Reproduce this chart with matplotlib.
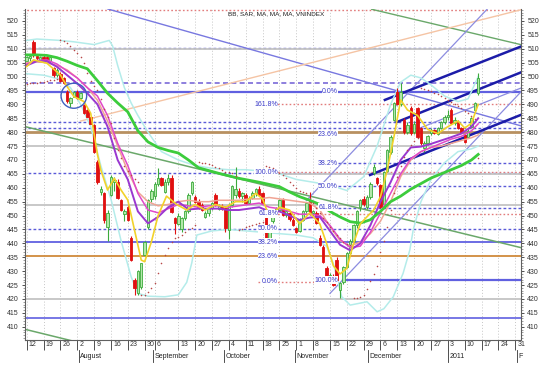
import matplotlib
matplotlib.use('Agg')
import matplotlib.pyplot as plt
from matplotlib.patches import Ellipse
from matplotlib.ticker import MultipleLocator
import matplotlib.transforms as mtransforms

# ---------------- data (trading-day index, VNINDEX points) ----------------
opens = [505.5, 506.5, 512.3, 507.5, 506.0, 507.0, 507.0, 505.5, 503.0, 500.5,
         501.0, 499.5, 494.6, 490.5, 492.8, 494.6, 492.2, 489.8, 488.0, 485.4,
         482.6, 469.4, 458.5, 458.0, 446.0, 457.4, 462.0, 462.2, 455.6, 450.5,
         453.2, 441.8, 426.8, 422.0, 424.4, 436.0, 446.0, 456.0, 457.0, 461.5,
         463.4, 458.6, 462.0, 463.4, 449.0, 447.0, 445.0, 449.0, 451.5, 458.0,
         456.8, 455.0, 453.8, 449.5, 450.8, 452.6, 457.4, 452.5, 453.5, 452.6,
         444.8, 453.8, 457.5, 459.0, 457.0, 457.4, 454.5, 456.5, 458.0, 459.5,
         458.0, 450.8, 441.5, 448.0, 450.0, 452.0, 455.6, 450.2, 451.0, 448.4,
         445.4, 444.5, 448.5, 451.5, 455.6, 450.8, 450.8, 441.8, 438.8, 431.2,
         427.0, 428.0, 434.0, 423.2, 426.0, 431.5, 436.5, 441.0, 446.5, 453.0,
         456.0, 453.0, 456.8, 465.2, 463.5, 461.0, 454.0, 466.0, 473.0, 484.4,
         494.6, 490.2, 484.4, 480.2, 488.6, 480.0, 488.6, 481.4, 474.2, 476.0,
         479.6, 480.8, 479.5, 481.5, 483.5, 485.5, 488.0, 483.2, 483.8, 481.4,
         479.0, 478.4, 482.0, 488.0, 494.0]
highs = [507.5, 508.0, 513.2, 508.0, 507.5, 507.8, 507.5, 507.5, 503.5, 503.0,
         501.5, 500.0, 495.0, 492.5, 494.8, 495.0, 494.5, 490.0, 488.5, 485.8,
         483.0, 470.0, 460.5, 458.5, 452.0, 464.5, 463.8, 463.0, 456.0, 452.5,
         453.8, 442.5, 427.5, 430.5, 433.0, 441.0, 456.0, 459.5, 462.0, 467.2,
         464.0, 463.0, 465.0, 464.5, 449.5, 451.0, 449.5, 452.0, 458.0, 462.5,
         457.5, 456.0, 454.5, 451.5, 453.0, 455.0, 458.0, 454.0, 454.0, 453.0,
         454.5, 461.0, 467.6, 460.0, 458.5, 458.0, 457.0, 459.0, 460.0, 460.5,
         458.5, 451.5, 447.0, 450.8, 453.0, 456.0, 456.2, 452.0, 451.5, 449.0,
         446.0, 449.0, 452.0, 455.0, 458.6, 452.0, 451.5, 443.0, 439.5, 432.0,
         429.5, 429.0, 435.0, 426.0, 432.0, 437.0, 441.5, 447.0, 452.0, 456.0,
         457.0, 457.5, 462.0, 468.5, 464.0, 461.5, 466.0, 474.0, 479.0, 491.0,
         495.8, 497.6, 485.0, 483.5, 489.5, 484.0, 489.0, 482.0, 477.0, 479.0,
         481.5, 481.2, 482.0, 484.0, 486.0, 488.0, 488.8, 485.5, 484.5, 482.0,
         479.5, 481.0, 485.5, 490.8, 501.2]
lows = [504.5, 505.5, 507.2, 505.5, 505.5, 505.5, 505.0, 505.0, 500.0, 500.0,
        498.0, 497.5, 490.5, 489.0, 492.5, 492.0, 492.0, 486.5, 485.3, 482.8,
        472.5, 461.5, 457.5, 447.5, 441.0, 457.0, 459.0, 455.8, 451.5, 448.0,
        448.0, 433.5, 421.4, 421.5, 423.5, 435.5, 445.0, 455.0, 456.0, 460.8,
        460.5, 458.0, 461.0, 450.8, 443.5, 446.5, 444.0, 448.5, 451.0, 457.5,
        454.5, 452.5, 451.5, 449.0, 450.0, 452.0, 453.5, 452.0, 452.0, 444.0,
        441.5, 453.0, 456.5, 456.5, 455.0, 454.0, 454.0, 456.0, 457.0, 457.0,
        454.0, 440.5, 441.0, 447.5, 449.5, 451.5, 449.8, 449.5, 448.0, 446.2,
        443.8, 444.0, 448.0, 451.0, 450.3, 449.5, 446.8, 439.0, 433.0, 426.5,
        426.0, 424.5, 426.5, 420.2, 425.5, 431.0, 436.0, 440.0, 445.5, 451.5,
        453.5, 452.5, 456.0, 464.5, 461.0, 452.8, 453.5, 465.5, 472.0, 484.0,
        489.8, 489.5, 479.5, 479.5, 479.0, 479.5, 478.0, 475.5, 473.0, 475.5,
        479.0, 479.2, 479.0, 481.0, 483.0, 484.5, 482.8, 482.5, 481.0, 479.6,
        476.0, 478.0, 481.5, 487.5, 493.5]
closes = [507.0, 507.5, 507.7, 506.5, 507.2, 506.0, 505.4, 507.0, 500.5, 502.5,
          498.5, 497.8, 491.2, 492.3, 494.6, 492.2, 494.0, 486.8, 485.6, 483.0,
          473.0, 462.2, 459.5, 448.4, 451.0, 464.0, 462.8, 456.2, 452.0, 451.5,
          448.4, 434.0, 423.8, 430.0, 432.8, 440.5, 455.5, 459.0, 461.5, 463.4,
          461.0, 462.2, 463.4, 451.4, 447.2, 450.0, 449.0, 451.5, 457.5, 462.2,
          455.0, 453.0, 452.0, 451.0, 452.6, 454.5, 453.8, 453.5, 452.2, 445.4,
          453.8, 460.5, 459.5, 457.0, 458.0, 454.4, 456.5, 458.0, 459.5, 457.5,
          454.4, 441.2, 446.0, 450.0, 452.5, 455.6, 450.2, 451.5, 448.8, 446.6,
          444.2, 448.5, 451.5, 454.5, 450.8, 451.5, 447.2, 439.4, 433.4, 426.8,
          428.5, 425.0, 426.8, 425.6, 431.5, 436.5, 441.0, 446.5, 451.5, 455.5,
          454.0, 456.8, 461.5, 467.6, 461.8, 453.2, 465.5, 473.5, 478.4, 490.4,
          490.2, 494.5, 480.2, 482.5, 479.6, 483.0, 478.4, 476.0, 476.0, 478.5,
          480.8, 479.6, 481.5, 483.5, 485.5, 486.0, 483.2, 484.5, 481.4, 480.0,
          476.6, 480.5, 485.0, 490.4, 499.4]

sar_vals = ([497.5, 497.6, 497.7, 497.8, 498.0, 498.2, 498.4, 498.6, 498.8, 499.0] +
            [513.2, 512.7, 512.2, 511.0, 509.6, 508.4, 507.2, 504.8, 501.2, 498.5, 496.5, 495.2,
             492.0, 488.5, 485.5, 483.2, 478.0, 473.6, 470.6, 468.0, 466.0, 464.5, 463.0, 462.0] +
            [421.3, 421.6, 422.5, 423.8, 425.6, 429.2, 432.8, 435.8, 438.2, 440.6, 442.0, 442.4,
             443.0, 444.0, 445.0, 445.4, 446.5] +
            [469.4, 469.0, 468.8, 468.5, 468.2, 467.6, 467.0, 466.4, 465.8, 465.5, 465.2, 464.2] +
            [444.8, 445.3, 445.8, 446.2, 446.6, 447.0, 447.2, 447.6] +
            [468.0, 467.6, 467.0, 466.0, 465.2, 464.6, 463.4, 462.2, 461.0, 459.8, 459.0, 458.5,
             458.0, 456.2, 454.4, 452.6, 450.8, 449.3, 447.8, 446.0, 444.5, 443.0, 441.8, 440.6,
             439.8, 439.4] +
            [420.2, 420.5, 420.8, 421.6, 423.5, 426.4, 429.0, 432.0, 437.0, 441.0, 446.0, 452.0,
             458.0, 464.0, 468.0, 471.0, 473.5, 475.5, 476.8, 477.8] +
            [496.0, 495.6, 495.2, 494.7, 494.2, 493.6, 493.0, 492.4, 491.7, 491.0, 490.2, 489.4,
             488.6, 487.7, 486.8, 485.8, 484.6] +
            [470.8])

ma_days = [0, 3, 6, 9, 12, 15, 18, 21, 24, 27, 30, 33, 36, 39, 42, 45, 48, 51, 54, 57, 60, 63,
           66, 69, 72, 75, 78, 81, 84, 87, 90, 93, 96, 99, 102, 105, 108, 111, 114, 117, 120,
           123, 126, 129, 132, 134]
ma_green = [507.8, 507.8, 507.6, 506.8, 505.5, 504.0, 502.8, 498.5, 494.0, 490.5, 487.3, 480.5,
            476.5, 474.5, 473.4, 472.5, 470.0, 467.2, 466.2, 465.2, 464.3, 463.4, 462.7, 462.0,
            461.2, 460.4, 458.5, 456.8, 455.5, 454.0, 451.5, 449.5, 447.8, 447.3, 448.5, 451.5,
            455.0, 457.0, 459.5, 461.5, 463.5, 465.0, 466.5, 468.0, 470.0, 472.0]
ma_purple = [504.0, 505.5, 505.5, 503.5, 500.5, 497.5, 494.0, 490.0, 482.0, 470.0, 463.0, 451.5,
             447.2, 449.5, 453.0, 455.0, 452.2, 452.5, 452.5, 452.5, 452.0, 452.0, 452.5, 453.0,
             451.5, 451.5, 450.0, 448.4, 449.3, 449.5, 444.5, 439.5, 437.5, 440.0, 446.5, 455.0,
             462.0, 470.0, 474.5, 474.8, 475.8, 477.0, 478.2, 479.5, 482.0, 485.0]
ma_magenta = [504.5, 505.8, 506.0, 504.5, 502.0, 499.5, 496.0, 493.0, 486.0, 476.0, 468.0, 458.0,
              452.0, 451.0, 452.5, 454.0, 453.5, 453.0, 453.5, 453.5, 453.0, 453.5, 454.0, 454.5,
              453.0, 452.5, 451.5, 450.5, 450.5, 450.0, 446.5, 441.5, 438.5, 439.0, 444.0, 451.0,
              458.0, 465.0, 470.5, 473.0, 474.5, 476.0, 477.5, 478.5, 480.5, 483.0]
ma_salmon = [505.0, 505.3, 505.0, 504.0, 502.4, 499.5, 496.0, 491.5, 484.0, 475.0, 466.0, 458.5,
             455.0, 453.5, 454.0, 455.0, 455.5, 455.0, 455.0, 455.5, 455.5, 455.5, 456.0, 456.0,
             456.5, 456.0, 455.5, 455.0, 454.5, 452.0, 446.0, 441.0, 439.0, 440.5, 443.5, 448.0,
             455.0, 464.0, 470.0, 473.0, 474.5, 475.0, 476.0, 477.0, 478.0, 479.0]

yel_days = [0, 2, 6, 10, 12, 14, 17, 19, 21, 22, 24, 26, 28, 30, 32, 34, 35, 37, 39, 41.5,
            44.5, 47.5, 50, 53, 56, 59, 62, 65, 68, 70, 72, 75, 78, 81, 84, 87, 89, 91, 93, 95,
            97, 99, 101, 103, 105, 107, 109, 111, 113, 116, 119, 122, 125, 128, 130, 132, 134]
yel_vals = [503.6, 506.0, 504.8, 500.6, 496.4, 492.8, 491.0, 486.8, 472.0, 466.4, 459.2, 463.4,
            459.2, 455.6, 444.8, 434.0, 433.4, 440.5, 450.0, 457.0, 454.0, 452.0, 454.0, 452.0,
            454.0, 453.0, 455.0, 455.0, 458.0, 456.0, 449.6, 453.0, 452.0, 447.0, 451.0, 447.0,
            440.0, 432.0, 429.0, 431.0, 440.0, 447.0, 449.6, 452.0, 456.8, 466.4, 478.4, 491.6,
            488.0, 486.0, 481.0, 479.5, 482.0, 484.0, 481.5, 483.2, 490.0]

bb_up_days = [0, 3, 10, 14, 20, 23, 24.5, 25.5, 27, 29, 31, 33, 36, 40, 45, 50, 55, 60, 65, 70,
              75, 80, 85, 90, 95, 100, 104, 108, 111, 114, 117, 120, 124, 128, 131, 134]
bb_up_vals = [513.0, 513.5, 513.0, 512.5, 511.5, 512.5, 513.0, 511.0, 504.0, 496.0, 490.5, 486.0,
              480.0, 473.0, 470.0, 468.0, 467.0, 466.5, 466.5, 466.0, 465.0, 463.0, 462.0, 461.0,
              459.0, 464.0, 475.0, 490.0, 498.0, 500.5, 499.5, 497.0, 493.0, 491.0, 492.0, 500.0]
bb_lo_days = [0, 5, 10, 13, 16, 19, 22, 25, 28, 31, 33, 36, 41, 45, 47.5, 49, 50.5, 55, 60, 65,
              70, 75, 80, 85, 89, 91, 93.5, 96, 101, 104, 106, 108.8, 111.7, 113.7, 114.7, 117,
              120, 124, 128, 132, 134]
bb_lo_vals = [501.0, 500.5, 499.0, 496.0, 490.0, 482.0, 468.0, 456.0, 441.0, 428.0, 422.0, 421.0,
              420.8, 421.5, 426.0, 433.0, 443.0, 444.5, 445.0, 444.5, 444.0, 443.5, 443.0, 442.0,
              439.0, 432.8, 420.8, 417.8, 419.0, 415.4, 416.5, 420.8, 429.2, 437.6, 444.8, 455.0,
              463.0, 469.0, 473.0, 474.0, 475.0]

# horizontal levels: value, start day, end day
lvl_blue_dot = [(510.3, -1, 148), (483.6, -1, 148), (481.6, -1, 148), (465.2, -1, 148),
                (445.2, -1, 148), (468.8, 88, 148), (460.6, 88, 148), (452.7, 88, 148)]
lvl_pink_dot = [(524.0, -1, 148), (490.1, 68.6, 148), (465.6, 68.6, 148), (450.6, 68.6, 148),
                (426.2, 68.6, 93)]
lvl_grey = [(509.8, -1, 148), (475.1, -1, 148), (464.8, 68.6, 148), (453.9, -1, 148), (420.0, -1, 148)]
lvl_blue_solid = [(494.5, -1, 148, 1.6), (440.4, -1, 148, 1.3), (426.8, 94, 148, 1.6), (413.0, -1, 148, 1.2)]

fib_left_names = ["161.8%", "100.0%", "61.8%", "50.0%", "38.2%", "23.6%", "0.0%"]
fib_left_vals = [490.1, 465.5, 450.6, 445.2, 440.4, 435.4, 426.2]
fib_right_names = ["0.0%", "23.6%", "38.2%", "50.0%", "61.8%", "100.0%"]
fib_right_vals = [494.5, 479.2, 468.8, 460.6, 453.0, 426.8]

# trend lines: (day0, val0, day1, val1)
tl_periwinkle = (24.1, 524.3, 157.4, 478.6)
tl_green_top = (102.4, 524.2, 157.4, 508.4)
tl_green_mid = (-0.5, 482.0, 157.4, 435.3)
tl_green_low = (-0.5, 409.1, 14.3, 404.7)
tl_salmon = (16.0, 484.0, 147.6, 524.3)
tl_steep1 = (83.0, 455.4, 136.7, 524.3)
tl_steep2 = (90.0, 422.0, 157.4, 508.2)
tl_violet = (116.7, 481.5, 157.4, 501.0)
tl_navy = [(106.3, 491.6, 157.4, 515.9), (109.8, 483.6, 157.4, 506.7), (101.9, 464.6, 157.4, 491.4)]

xt_pos = [0, 5, 10, 15, 20, 25, 30, 35, 38, 45, 50, 55, 60, 65, 70, 75, 80, 85, 90, 95, 100,
          105, 110, 115, 120, 125, 130, 135, 140, 145]
xt_labels = ["12", "19", "26", "2", "9", "16", "23", "30", "6", "13", "20", "27", "4", "11", "18",
             "25", "1", "8", "15", "22", "29", "6", "13", "20", "27", "3", "10", "17", "24", "31"]
month_names = ["August", "September", "October", "November", "December", "2011", "F"]
month_pos = [15.5, 37.5, 58.6, 79.6, 101.3, 125.0, 145.5]

title = "BB, SAR, MA, MA, MA, VNINDEX"

# ---------------- figure ----------------
plt.rcParams['font.family'] = ['Liberation Sans', 'DejaVu Sans']
fig = plt.figure(figsize=(5.57, 3.65), dpi=100)
ax = fig.add_axes([25 / 557, 25 / 365, 496 / 557, 331 / 365])
ax.set_xlim(-0.5, 146.7)
ax.set_ylim(405.25, 524.3)

BLUE_DOT = '#5a5ad8'
for v, a, b in lvl_blue_dot:
    ax.plot([a, b], [v, v], color=BLUE_DOT, lw=1.0, ls=(0, (2, 1.6)), zorder=1)
for v, a, b in lvl_pink_dot:
    ax.plot([a, b], [v, v], color='#e27c7c', lw=1.0, ls=(0, (1.2, 1.6)), zorder=1)
for v, a, b in lvl_grey:
    ax.plot([a, b], [v, v], color='#c4c4c4', lw=1.3, zorder=1)
for v, a, b, w in lvl_blue_solid:
    ax.plot([a, b], [v, v], color='#6060e0', lw=w, zorder=1)
ax.plot([-1, 148], [497.8, 497.8], color='#7a6ad8', lw=1.2, ls=(0, (3, 2)), zorder=1)
ax.plot([-1, 148], [480.0, 480.0], color='#b89060', lw=2.0, zorder=1)
ax.plot([-1, 148], [435.4, 435.4], color='#d08a3a', lw=1.3, zorder=1)

def tline(t, color, lw):
    ax.plot([t[0], t[2]], [t[1], t[3]], color=color, lw=lw, zorder=2)

tline(tl_periwinkle, '#7878e0', 1.0)
tline(tl_green_top, '#6aa86a', 1.0)
tline(tl_green_mid, '#6aa86a', 1.1)
tline(tl_green_low, '#6aa86a', 1.1)
tline(tl_salmon, '#f5c4a4', 1.0)
tline(tl_steep1, '#8c8ce0', 0.9)
tline(tl_steep2, '#8c8ce0', 0.9)
tline(tl_violet, '#8c8ce0', 0.9)
for t in tl_navy:
    tline(t, '#1c1ca8', 1.8)

# bollinger bands
ax.plot(bb_up_days, bb_up_vals, color='#b4ecea', lw=1.1, zorder=2.5)
ax.plot(bb_lo_days, bb_lo_vals, color='#b4ecea', lw=1.1, zorder=2.5)

# candles
days = list(range(len(opens)))
up = [c >= o for o, c in zip(opens, closes)]
edge = ['#3caa3c' if u else '#e01010' for u in up]
face = ['#b2e8aa' if u else '#e01010' for u in up]
ax.vlines(days, lows, highs, colors=edge, lw=0.8, zorder=4)
ax.bar(days, [max(abs(c - o), 0.3) for o, c in zip(opens, closes)],
       bottom=[min(o, c) for o, c in zip(opens, closes)], width=0.72,
       color=face, edgecolor=edge, linewidth=0.6, zorder=4.5)

# moving averages
ax.plot(ma_days, ma_salmon, color='#f0a494', lw=1.1, zorder=5)
ax.plot(ma_days, ma_magenta, color='#e048c8', lw=1.1, zorder=5)
ax.plot(ma_days, ma_purple, color='#9a38d0', lw=1.4, zorder=5)
ax.plot(ma_days, ma_green, color='#3ccc3c', lw=2.0, zorder=5)
ax.plot(yel_days, yel_vals, color='#f2d22a', lw=1.2, zorder=5.2)

# parabolic SAR
ax.scatter(list(range(len(sar_vals))), sar_vals, s=1.3, color='#b84848', linewidths=0, zorder=6)

# circle annotation
ax.add_patch(Ellipse((14.0, 493.1), 7.6, 9.0, fill=False, edgecolor='#4060c0', lw=1.0, zorder=6))

# fib labels
for n, v in zip(fib_left_names, fib_left_vals):
    ax.text(74.6, v, n, fontsize=5, color='#3a3ac8', ha='right', va='center', zorder=7,
            bbox=dict(facecolor='white', edgecolor='none', pad=0.2))
for n, v in zip(fib_right_names, fib_right_vals):
    ax.text(92.4, v, n, fontsize=5, color='#3a3ac8', ha='right', va='center', zorder=7,
            bbox=dict(facecolor='white', edgecolor='none', pad=0.2))

ax.text(0.409, 0.985, title, transform=ax.transAxes, fontsize=4.6, color='#222222',
        ha='left', va='center', zorder=8)

# axes styling
for s in ['left', 'right', 'bottom']:
    ax.spines[s].set_color('#606060')
    ax.spines[s].set_linewidth(0.8)
ax.spines['top'].set_visible(False)

ax.set_yticks(list(range(410, 521, 5)))
ax.yaxis.set_minor_locator(MultipleLocator(1))
ax.tick_params(axis='y', which='major', left=True, right=True, labelleft=True, labelright=True,
               labelsize=5, length=2.5, width=0.6, colors='#333333', pad=2)
ax.tick_params(axis='y', which='minor', left=True, right=True, length=1.2, width=0.4, colors='#555555')

ax.set_xticks(xt_pos)
ax.set_xticklabels(xt_labels)
ax.tick_params(axis='x', which='major', length=7, width=0.6, colors='#333333', labelsize=5, pad=-6.5)
offset = mtransforms.ScaledTranslation(1.5 / 72, 0, fig.dpi_scale_trans)
for lab in ax.get_xticklabels():
    lab.set_horizontalalignment('left')
    lab.set_transform(lab.get_transform() + offset)

ax.grid(axis='x', color='#c6c6c6', lw=0.7, ls=(0, (1, 2)))
ax.set_axisbelow(True)

trans = mtransforms.blended_transform_factory(ax.transData, ax.transAxes)
for name, p in zip(month_names, month_pos):
    ax.plot([p, p], [-0.03, -0.066], transform=trans, color='#333333', lw=0.6, clip_on=False)
    ax.text(p + 0.4, -0.05, name, transform=trans, fontsize=5, color='#222222',
            ha='left', va='center', clip_on=False)

fig.savefig('out.png', dpi=100, facecolor='white')
